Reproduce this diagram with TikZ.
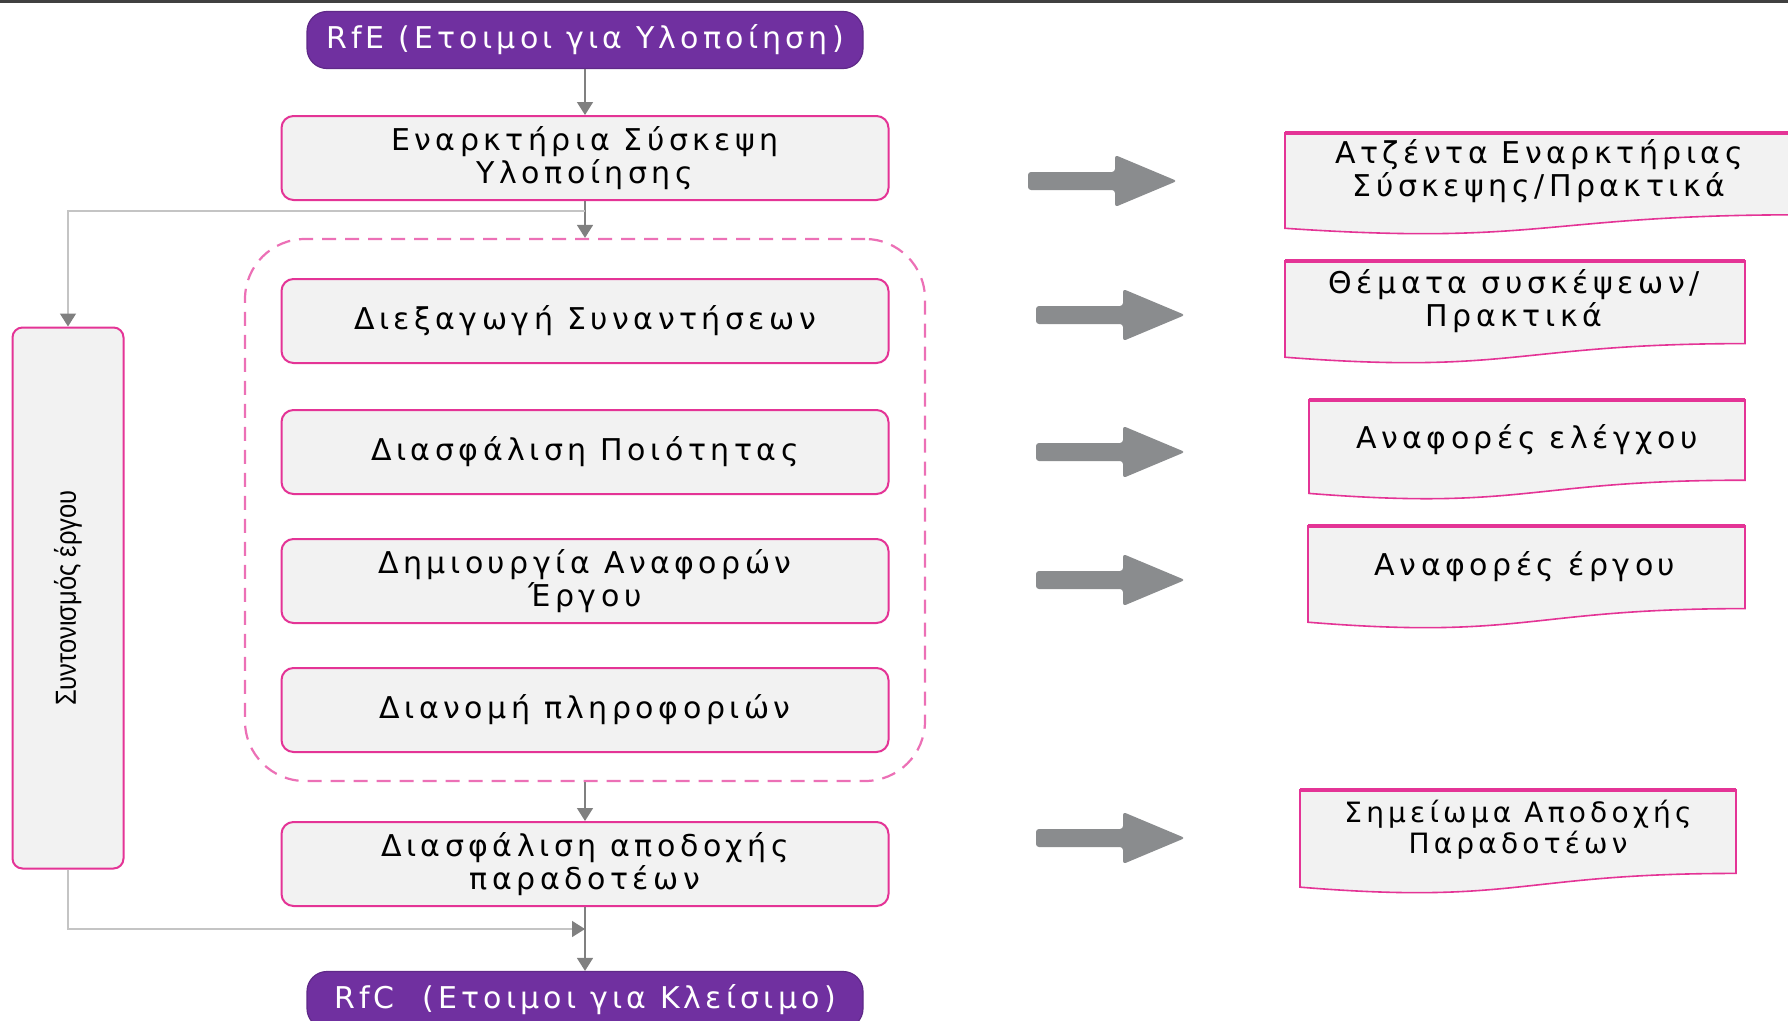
\documentclass[tikz,border=0pt]{standalone}
\usepackage{fontspec}
\usepackage{graphicx}
\setmainfont{DejaVu Sans}[LetterSpace=15]
\newfontfamily\gatefont{DejaVu Sans}[LetterSpace=14]
\newfontfamily\sidefont{Liberation Sans}
\usetikzlibrary{arrows.meta,positioning}

\definecolor{rfpurple}{RGB}{112,48,160}
\definecolor{boxpink}{RGB}{228,52,150}
\definecolor{grppink}{RGB}{236,112,182}
\definecolor{boxfill}{RGB}{242,242,242}
\definecolor{flowgray}{RGB}{128,128,128}
\definecolor{sidegray}{RGB}{196,196,196}
\definecolor{fatgray}{RGB}{138,140,142}

% output document: left, top, right, height
\newcommand{\docshape}[4]{%
  \filldraw[fill=boxfill, draw=boxpink, line width=1.6pt] (#1,#2) -- (#3,#2) -- (#3,{#2+0.802*#4})
    .. controls ({(#1+#3)/2},{#2+0.802*#4}) and ({(#1+#3)/2},{#2+1.107*#4}) .. (#1,{#2+0.934*#4}) -- cycle;
  \draw[boxpink, line width=3.5pt] (#1,#2) -- (#3,#2);}

\begin{document}
\begin{tikzpicture}[x=1pt, y=-1pt,
    gate/.style={rounded corners=20pt, fill=rfpurple, draw=rfpurple!85!black, line width=1.2pt, text=white,
      minimum width=556pt, minimum height=57pt, font=\gatefont\fontsize{30}{33}\selectfont},
    proc/.style={rounded corners=12pt, fill=boxfill, draw=boxpink, line width=2pt, align=center,
      minimum width=607pt, minimum height=84pt, font=\fontsize{30}{33}\selectfont},
    grp/.style={rounded corners=60pt, draw=grppink, line width=2.2pt, dash pattern=on 14pt off 9pt},
    doctext/.style={align=center, font=\fontsize{30}{33}\selectfont},
    flow/.style={draw=flowgray, line width=1.5pt, -{Triangle[length=13pt, width=16pt]}},
    side/.style={draw=sidegray, line width=1.5pt, -{Triangle[length=13pt, width=16pt, color=flowgray]}}]
  \useasboundingbox (0,0) rectangle (1788,1020);
  \fill[white] (0,0) rectangle (1788,1020);
  \draw[black!75, line width=3pt] (0,1.5) -- (1788,1.5);

  \node[grp, minimum width=680pt, minimum height=542pt] (grp) at (585,510) {};

  \node[gate] (rfe) at (585,40) {RfE (Ετοιμοι για Υλοποίηση)};
  \node[proc] (kick) at (585,158) {Εναρκτήρια Σύσκεψη\\Υλοποίησης};
  \node[proc] (meet) at (585,321) {Διεξαγωγή Συναντήσεων};
  \node[proc] (qa) at (585,452) {Διασφάλιση Ποιότητας};
  \node[proc] (rep) at (585,581) {Δημιουργία Αναφορών\\Έργου};
  \node[proc] (dist) at (585,710) {Διανομή πληροφοριών};
  \node[proc] (acc) at (585,864) {Διασφάλιση αποδοχής\\παραδοτέων};
  \node[gate] (rfc) at (585,1000) {RfC~~(Ετοιμοι για Κλείσιμο)};
  \node[proc, rounded corners=10pt, minimum width=111pt, minimum height=541pt] (coord) at (68,598)
    {\rotatebox{90}{\sidefont\fontsize{29}{30}\selectfont\scalebox{0.88}[1]{Συντονισμός έργου}}};

  \coordinate (split) at (585,211);
  \coordinate (join) at (585,929);
  \draw[flow] (rfe) -- (kick);
  \draw[flow] (kick) -- (grp);
  \draw[flow] (grp) -- (acc);
  \draw[flow] (acc) -- (rfc);
  \draw[side] (split) -| (coord.north);
  \draw[side] (coord.south) |- (join);

  % fat arrows towards the outputs
  \foreach \x/\y in {1028/181, 1036/315, 1036/452, 1036/580, 1036/838}
    \fill[fatgray, rounded corners=3pt] (\x,{\y-9}) -- ({\x+87},{\y-9}) -- ({\x+87},{\y-26}) -- ({\x+149},\y)
      -- ({\x+87},{\y+26}) -- ({\x+87},{\y+9}) -- (\x,{\y+9}) -- cycle;

  \docshape{1285}{133}{1800}{102}
  \docshape{1285}{261}{1745}{103}
  \docshape{1309}{400}{1745}{100}
  \docshape{1308}{526}{1745}{103}
  \docshape{1300}{790}{1736}{104}
  \node[doctext] (out1) at (1539,171) {Ατζέντα Εναρκτήριας\\Σύσκεψης/Πρακτικά};
  \node[doctext] (out2) at (1514,301) {Θέματα συσκέψεων/\\Πρακτικά};
  \node[doctext] (out3) at (1527,440) {Αναφορές ελέγχου};
  \node[doctext] (out4) at (1525,567) {Αναφορές έργου};
  \node[doctext, font=\fontsize{28}{31}\selectfont] (out5) at (1518,830) {Σημείωμα Αποδοχής\\Παραδοτέων};
\end{tikzpicture}
\end{document}
